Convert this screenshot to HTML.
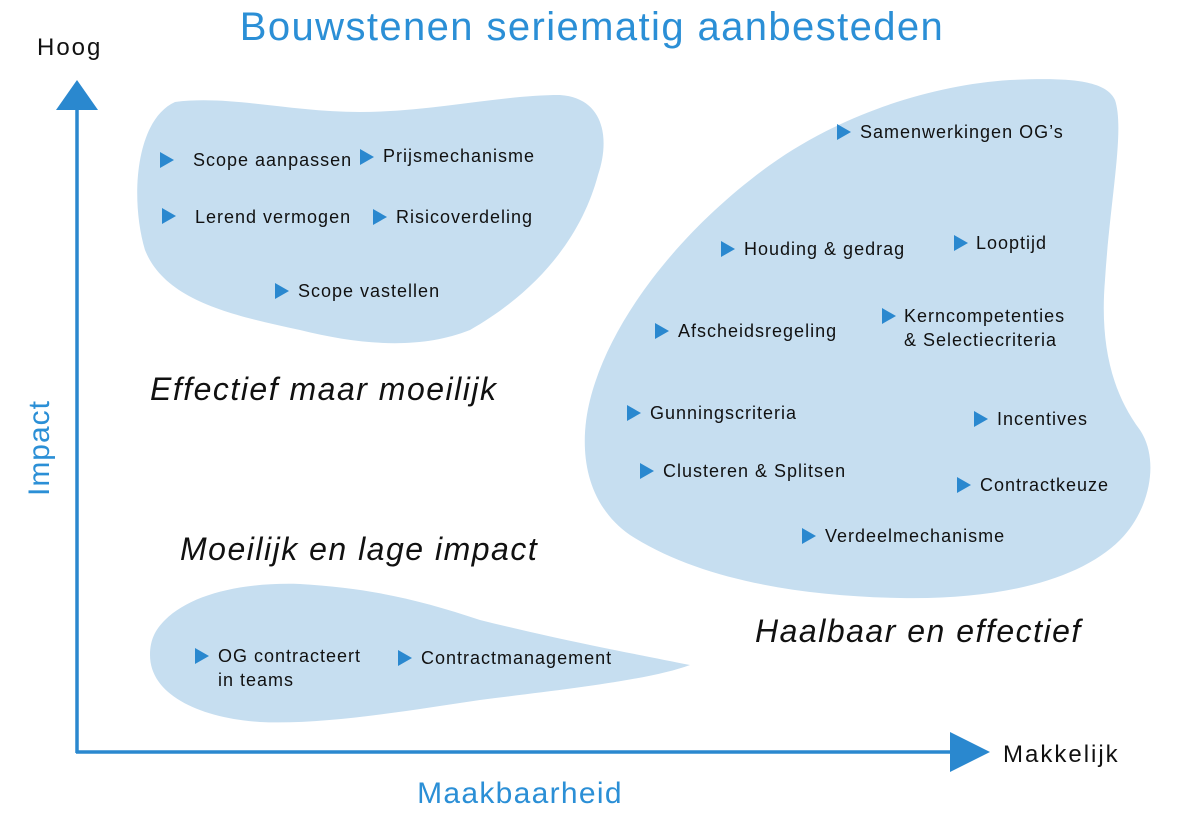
<!DOCTYPE html>
<html><head><meta charset="utf-8"><style>
html,body{margin:0;padding:0;background:#fff}
svg{display:block}
text{font-family:"Liberation Sans",Arial,sans-serif}
.i{font-size:18px;fill:#111;letter-spacing:1px}
.l{font-size:32px;font-style:italic;fill:#111;letter-spacing:1.5px}
</style></head><body>
<svg width="1200" height="825" viewBox="0 0 1200 825">
<defs><path id="t" d="M0,-8 L14,0 L0,8 Z" fill="#2a88cf"/></defs>
<path fill="#c6def0" d="M175,102 C230,95 290,112 360,112 C430,112 500,95 560,95 C605,98 610,140 598,175 C582,235 540,290 470,330 C420,350 360,345 300,330 C230,315 165,300 145,250 C130,200 135,120 175,102 Z"/>
<path fill="#c6def0" d="M1010,80 C1060,78 1105,78 1115,100 C1125,130 1110,200 1105,280 C1100,340 1110,390 1140,430 C1160,460 1150,510 1120,540 C1080,580 1000,600 900,598 C800,596 700,580 630,535 C580,500 580,440 590,400 C610,320 680,230 770,165 C840,115 930,85 1010,80 Z"/>
<path fill="#c6def0" d="M165,620 C190,595 240,582 300,584 C370,588 420,600 480,620 C560,640 640,655 690,665 C650,680 560,690 480,700 C400,712 320,725 260,722 C200,718 150,695 150,655 C150,640 155,630 165,620 Z"/>
<line x1="77" y1="108" x2="77" y2="753" stroke="#2a88cf" stroke-width="3.5"/>
<path d="M77,80 L98,110 L56,110 Z" fill="#2a88cf"/>
<line x1="76" y1="752" x2="952" y2="752" stroke="#2a88cf" stroke-width="3.5"/>
<path d="M990,752 L950,732 L950,772 Z" fill="#2a88cf"/>
<text x="592" y="40" text-anchor="middle" font-size="40" fill="#2b8fd6" letter-spacing="1.4">Bouwstenen seriematig aanbesteden</text>
<text x="37" y="55" font-size="24" fill="#111" letter-spacing="2">Hoog</text>
<text x="1003" y="762" font-size="24" fill="#111" letter-spacing="2">Makkelijk</text>
<text x="520" y="803" text-anchor="middle" font-size="30" fill="#2b8fd6" letter-spacing="1.3">Maakbaarheid</text>
<text transform="translate(49,448) rotate(-90)" text-anchor="middle" font-size="30" fill="#2b8fd6" letter-spacing="1">Impact</text>
<text class="l" x="150" y="400">Effectief maar moeilijk</text>
<text class="l" x="180" y="560">Moeilijk en lage impact</text>
<text class="l" x="755" y="642">Haalbaar en effectief</text>
<use href="#t" x="160" y="160"/><text class="i" x="193" y="166">Scope aanpassen</text>
<use href="#t" x="360" y="157"/><text class="i" x="383" y="162">Prijsmechanisme</text>
<use href="#t" x="162" y="216"/><text class="i" x="195" y="223">Lerend vermogen</text>
<use href="#t" x="373" y="217"/><text class="i" x="396" y="223">Risicoverdeling</text>
<use href="#t" x="275" y="291"/><text class="i" x="298" y="297">Scope vastellen</text>
<use href="#t" x="837" y="132"/><text class="i" x="860" y="138">Samenwerkingen OG’s</text>
<use href="#t" x="721" y="249"/><text class="i" x="744" y="255">Houding &amp; gedrag</text>
<use href="#t" x="954" y="243"/><text class="i" x="976" y="249">Looptijd</text>
<use href="#t" x="655" y="331"/><text class="i" x="678" y="337">Afscheidsregeling</text>
<use href="#t" x="882" y="316"/><text class="i" x="904" y="322">Kerncompetenties</text>
<text class="i" x="904" y="346">&amp; Selectiecriteria</text>
<use href="#t" x="627" y="413"/><text class="i" x="650" y="419">Gunningscriteria</text>
<use href="#t" x="974" y="419"/><text class="i" x="997" y="425">Incentives</text>
<use href="#t" x="640" y="471"/><text class="i" x="663" y="477">Clusteren &amp; Splitsen</text>
<use href="#t" x="957" y="485"/><text class="i" x="980" y="491">Contractkeuze</text>
<use href="#t" x="802" y="536"/><text class="i" x="825" y="542">Verdeelmechanisme</text>
<use href="#t" x="195" y="656"/><text class="i" x="218" y="662">OG contracteert</text>
<text class="i" x="218" y="686">in teams</text>
<use href="#t" x="398" y="658"/><text class="i" x="421" y="664">Contractmanagement</text>
</svg>
</body></html>
